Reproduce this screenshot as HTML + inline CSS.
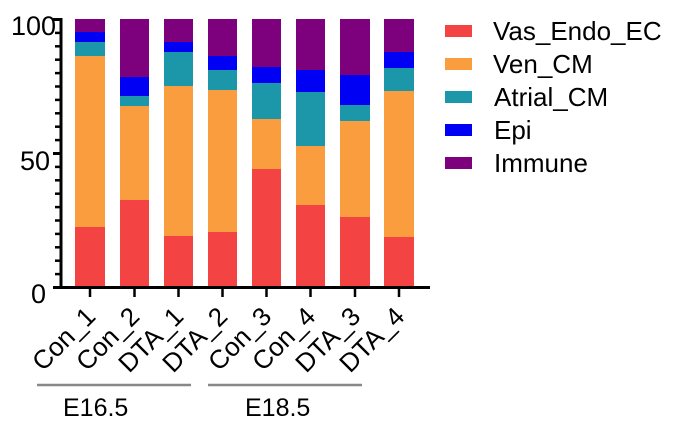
<!DOCTYPE html>
<html><head><meta charset="utf-8"><style>body{margin:0;background:#fff}</style></head><body>
<svg width="678" height="430" xmlns="http://www.w3.org/2000/svg" font-family="Liberation Sans, sans-serif">
<rect width="678" height="430" fill="#fff"/>
<g>
<rect x="75" y="227" width="30" height="60" fill="#f44343"/><rect x="75" y="56" width="30" height="171" fill="#f99d3f"/><rect x="75" y="42" width="30" height="14" fill="#1b97a9"/><rect x="75" y="32" width="30" height="10" fill="#0000f5"/><rect x="75" y="19" width="30" height="13" fill="#7d007d"/>
<rect x="120" y="200" width="29" height="87" fill="#f44343"/><rect x="120" y="106" width="29" height="94" fill="#f99d3f"/><rect x="120" y="96" width="29" height="10" fill="#1b97a9"/><rect x="120" y="77" width="29" height="19" fill="#0000f5"/><rect x="120" y="19" width="29" height="58" fill="#7d007d"/>
<rect x="164" y="236" width="29" height="51" fill="#f44343"/><rect x="164" y="86" width="29" height="150" fill="#f99d3f"/><rect x="164" y="52" width="29" height="34" fill="#1b97a9"/><rect x="164" y="42" width="29" height="10" fill="#0000f5"/><rect x="164" y="19" width="29" height="23" fill="#7d007d"/>
<rect x="208" y="232" width="29" height="55" fill="#f44343"/><rect x="208" y="90" width="29" height="142" fill="#f99d3f"/><rect x="208" y="70" width="29" height="20" fill="#1b97a9"/><rect x="208" y="56" width="29" height="14" fill="#0000f5"/><rect x="208" y="19" width="29" height="37" fill="#7d007d"/>
<rect x="252" y="169" width="29" height="118" fill="#f44343"/><rect x="252" y="119" width="29" height="50" fill="#f99d3f"/><rect x="252" y="83" width="29" height="36" fill="#1b97a9"/><rect x="252" y="67" width="29" height="16" fill="#0000f5"/><rect x="252" y="19" width="29" height="48" fill="#7d007d"/>
<rect x="296" y="205" width="29" height="82" fill="#f44343"/><rect x="296" y="146" width="29" height="59" fill="#f99d3f"/><rect x="296" y="92" width="29" height="54" fill="#1b97a9"/><rect x="296" y="70" width="29" height="22" fill="#0000f5"/><rect x="296" y="19" width="29" height="51" fill="#7d007d"/>
<rect x="340" y="217" width="30" height="70" fill="#f44343"/><rect x="340" y="121" width="30" height="96" fill="#f99d3f"/><rect x="340" y="105" width="30" height="16" fill="#1b97a9"/><rect x="340" y="75" width="30" height="30" fill="#0000f5"/><rect x="340" y="19" width="30" height="56" fill="#7d007d"/>
<rect x="384" y="237" width="30" height="50" fill="#f44343"/><rect x="384" y="91" width="30" height="146" fill="#f99d3f"/><rect x="384" y="68" width="30" height="23" fill="#1b97a9"/><rect x="384" y="52" width="30" height="16" fill="#0000f5"/><rect x="384" y="19" width="30" height="33" fill="#7d007d"/>
</g>
<g stroke="#000" stroke-width="3">
<line x1="61" y1="18" x2="61" y2="288"/>
<line x1="53" y1="287.5" x2="430" y2="287.5"/>
<line x1="53" y1="19.5" x2="61" y2="19.5"/>
<line x1="53" y1="153.5" x2="61" y2="153.5"/>
</g>
<g stroke="#000" stroke-width="2.5">
<line x1="55" y1="32.9" x2="61" y2="32.9"/><line x1="55" y1="46.3" x2="61" y2="46.3"/><line x1="55" y1="59.7" x2="61" y2="59.7"/><line x1="55" y1="73.1" x2="61" y2="73.1"/><line x1="55" y1="86.5" x2="61" y2="86.5"/><line x1="55" y1="99.9" x2="61" y2="99.9"/><line x1="55" y1="113.3" x2="61" y2="113.3"/><line x1="55" y1="126.7" x2="61" y2="126.7"/><line x1="55" y1="140.1" x2="61" y2="140.1"/>
<line x1="55" y1="166.9" x2="61" y2="166.9"/><line x1="55" y1="180.3" x2="61" y2="180.3"/><line x1="55" y1="193.7" x2="61" y2="193.7"/><line x1="55" y1="207.1" x2="61" y2="207.1"/><line x1="55" y1="220.5" x2="61" y2="220.5"/><line x1="55" y1="233.9" x2="61" y2="233.9"/><line x1="55" y1="247.3" x2="61" y2="247.3"/><line x1="55" y1="260.7" x2="61" y2="260.7"/><line x1="55" y1="274.1" x2="61" y2="274.1"/>
<line x1="90" y1="287" x2="90" y2="297"/><line x1="134.5" y1="287" x2="134.5" y2="297"/><line x1="178.5" y1="287" x2="178.5" y2="297"/><line x1="222.5" y1="287" x2="222.5" y2="297"/><line x1="266.5" y1="287" x2="266.5" y2="297"/><line x1="310.5" y1="287" x2="310.5" y2="297"/><line x1="355" y1="287" x2="355" y2="297"/><line x1="399" y1="287" x2="399" y2="297"/>
</g>
<g font-size="27" fill="#000" text-anchor="end">
<text x="56" y="35">100</text><text x="50" y="170">50</text><text x="46" y="303">0</text>
</g>
<g font-size="26" fill="#000" text-anchor="end">
<text transform="translate(97,318) rotate(-45)">Con_1</text>
<text transform="translate(141,318) rotate(-45)">Con_2</text>
<text transform="translate(185,318) rotate(-45)">DTA_1</text>
<text transform="translate(229,318) rotate(-45)">DTA_2</text>
<text transform="translate(273,318) rotate(-45)">Con_3</text>
<text transform="translate(317,318) rotate(-45)">Con_4</text>
<text transform="translate(362,318) rotate(-45)">DTA_3</text>
<text transform="translate(406,318) rotate(-45)">DTA_4</text>
</g>
<g stroke="#888" stroke-width="2.5">
<line x1="37" y1="385" x2="191" y2="385"/><line x1="208" y1="385" x2="362" y2="385"/>
</g>
<g font-size="25" fill="#000">
<text x="63" y="416">E16.5</text><text x="245" y="416">E18.5</text>
</g>
<g>
<rect x="445" y="25" width="27" height="12" fill="#f44343"/>
<rect x="445" y="58" width="27" height="12" fill="#f99d3f"/>
<rect x="445" y="91" width="27" height="12" fill="#1b97a9"/>
<rect x="445" y="124" width="27" height="12" fill="#0000f5"/>
<rect x="445" y="157" width="27" height="12" fill="#7d007d"/>
</g>
<g font-size="26" fill="#000">
<text x="493" y="40">Vas_Endo_EC</text>
<text x="493" y="73">Ven_CM</text>
<text x="494" y="106">Atrial_CM</text>
<text x="494" y="139">Epi</text>
<text x="494" y="172">Immune</text>
</g>
</svg>
</body></html>
